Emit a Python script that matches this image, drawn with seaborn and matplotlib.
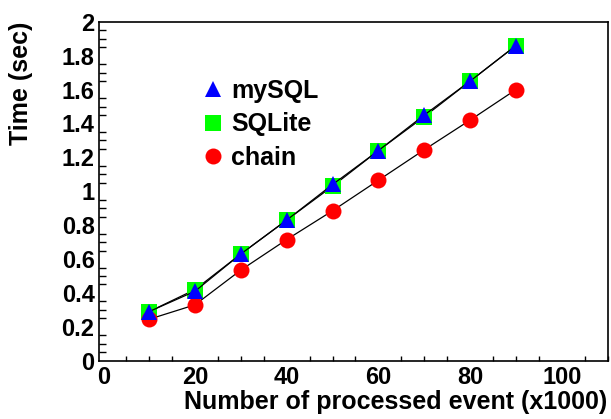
import numpy as np
import matplotlib
matplotlib.use("Agg")
import matplotlib.pyplot as plt
from matplotlib.lines import Line2D
from matplotlib.ticker import MultipleLocator
import seaborn as sns

# values
events = [10, 20, 30, 40, 50, 60, 70, 80, 90]
mysql_time = [0.29, 0.41, 0.63, 0.83, 1.04, 1.24, 1.45, 1.65, 1.86]
sqlite_time = [0.29, 0.42, 0.63, 0.83, 1.03, 1.24, 1.44, 1.65, 1.86]
chain_time = [0.245, 0.33, 0.535, 0.715, 0.885, 1.065, 1.245, 1.42, 1.60]

sns.set_theme(style="white")
plt.rcParams["font.family"] = ["Liberation Sans", "DejaVu Sans"]
plt.rcParams["font.weight"] = "bold"
plt.rcParams["text.color"] = "black"
plt.rcParams["axes.labelcolor"] = "black"

fig = plt.figure(figsize=(6.11, 4.19), dpi=100)
ax = fig.add_axes([0.1615, 0.139, 0.8331, 0.809])

ms = 11.5
# draw order matters: squares, then circles, then triangles on top
sns.lineplot(x=events, y=sqlite_time, ax=ax, color="black", lw=0.9,
             marker="s", markersize=ms, markerfacecolor="#00ff00",
             markeredgewidth=0)
sns.lineplot(x=events, y=chain_time, ax=ax, color="black", lw=0.9,
             marker="o", markersize=ms, markerfacecolor="#ff0000",
             markeredgewidth=0)
sns.lineplot(x=events, y=mysql_time, ax=ax, color="black", lw=0.9,
             marker="^", markersize=ms, markerfacecolor="#0000ff",
             markeredgewidth=0)

ax.set_xlim(-1, 110)
ax.set_ylim(0, 2)
ax.xaxis.set_major_locator(MultipleLocator(20))
ax.xaxis.set_minor_locator(MultipleLocator(5))
ax.yaxis.set_major_locator(MultipleLocator(0.2))
ax.yaxis.set_minor_locator(MultipleLocator(0.05))
ax.yaxis.set_major_formatter(plt.FuncFormatter(lambda v, p: f"{v:g}"))

ax.tick_params(axis="both", which="both", direction="in", top=False,
               right=False, labelsize=17, colors="black")
ax.tick_params(axis="y", which="major", length=10.5, width=1, pad=3)
ax.tick_params(axis="y", which="minor", length=5.3, width=1, left=True)
ax.tick_params(axis="x", which="major", length=7, width=1, pad=3.5)
ax.tick_params(axis="x", which="minor", length=3.6, width=1, bottom=True)
for lab in ax.get_xticklabels() + ax.get_yticklabels():
    lab.set_fontweight("bold")

for sp in ax.spines.values():
    sp.set_color("black")
    sp.set_linewidth(1.2)

ax.set_xlabel("Number of processed event (x1000)", fontsize=18,
              fontweight="bold", loc="right", color="black")
ax.set_ylabel("Time (sec)", fontsize=18, fontweight="bold", loc="top",
              color="black")
ax.xaxis.set_label_coords(1.0, -0.0865)
ax.yaxis.set_label_coords(-0.129, 1.0)

handles = [
    Line2D([], [], ls="none", marker="^", markersize=ms,
           markerfacecolor="#0000ff", markeredgewidth=0),
    Line2D([], [], ls="none", marker="s", markersize=ms,
           markerfacecolor="#00ff00", markeredgewidth=0),
    Line2D([], [], ls="none", marker="o", markersize=ms,
           markerfacecolor="#ff0000", markeredgewidth=0),
]
leg = ax.legend(handles, ["mySQL", "SQLite", "chain"], loc="upper left",
                bbox_to_anchor=(0.181, 0.868), frameon=False,
                prop={"size": 18, "weight": "bold"}, handlelength=0.8,
                handletextpad=0.3, labelspacing=0.37, borderpad=0)
for t in leg.get_texts():
    t.set_color("black")

fig.savefig("out.png", dpi=100)
